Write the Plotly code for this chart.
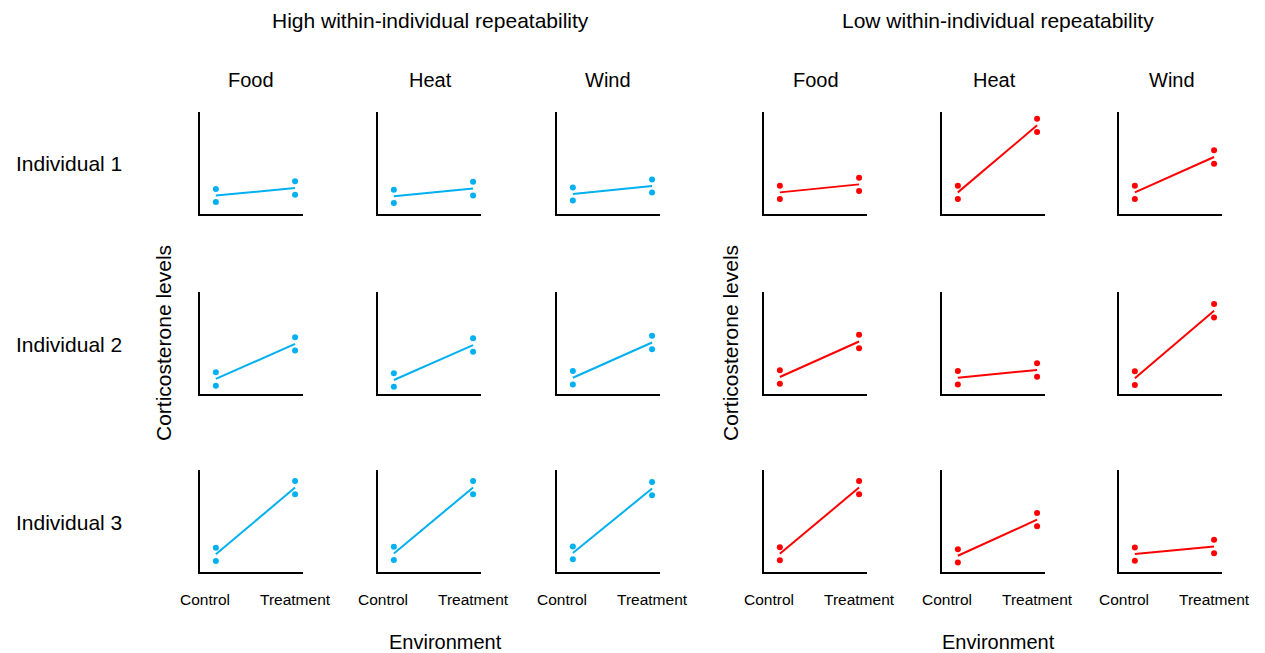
import plotly.graph_objects as go

W, H = 1265, 653

individuals = ["Individual 1", "Individual 2", "Individual 3"]
environments = ["Food", "Heat", "Wind"]
conditions = ["Control", "Treatment"]
group_titles = ["High within-individual repeatability", "Low within-individual repeatability"]
y_label = "Corticosterone levels"
x_label = "Environment"

# rows = individuals, columns = environments
high_ctrl_hi = [[2.45, 2.38, 2.61], [2.13, 2.03, 2.26], [2.38, 2.47, 2.50]]
high_ctrl_lo = [[1.18, 1.08, 1.33], [0.82, 0.72, 0.92], [1.08, 1.17, 1.24]]
high_trt_hi = [[3.20, 3.17, 3.39], [5.57, 5.47, 5.71], [8.93, 8.93, 8.83]]
high_trt_lo = [[1.89, 1.82, 2.12], [4.26, 4.13, 4.39], [7.63, 7.63, 7.53]]

low_ctrl_hi = [[2.77, 2.77, 2.77], [2.32, 2.26, 2.22], [2.43, 2.24, 2.40]]
low_ctrl_lo = [[1.47, 1.47, 1.47], [1.01, 0.92, 0.89], [1.14, 0.94, 1.11]]
low_trt_hi = [[3.56, 9.34, 6.24], [5.81, 3.01, 8.82], [8.93, 5.78, 3.15]]
low_trt_lo = [[2.25, 8.04, 4.93], [4.49, 1.70, 7.51], [7.63, 4.48, 1.85]]

groups = [
    (high_ctrl_hi, high_ctrl_lo, high_trt_hi, high_trt_lo, "#00B0F0"),
    (low_ctrl_hi, low_ctrl_lo, low_trt_hi, low_trt_lo, "#FF0000"),
]

col_left = [[200, 378, 557], [764, 942, 1119]]
row_top = [112, 292, 470]
pw, ph = 103, 102

FONT = "Liberation Sans, Arial, sans-serif"
fig = go.Figure()
annotations = []
idx = 0
for g, (chi, clo, thi, tlo, color) in enumerate(groups):
    for r in range(3):
        for c in range(3):
            idx += 1
            xa = "x" if idx == 1 else f"x{idx}"
            ya = "y" if idx == 1 else f"y{idx}"
            x0 = col_left[g][c]
            y0 = row_top[r]
            dom_x = [x0 / W, (x0 + pw) / W]
            dom_y = [1 - (y0 + ph) / H, 1 - y0 / H]
            mc = (chi[r][c] + clo[r][c]) / 2
            mt = (thi[r][c] + tlo[r][c]) / 2
            fig.add_trace(go.Scatter(
                x=[1, 2], y=[mc, mt], mode="lines",
                line=dict(color=color, width=2), xaxis=xa, yaxis=ya,
                showlegend=False, hoverinfo="skip"))
            fig.add_trace(go.Scatter(
                x=[1, 1, 2, 2], y=[chi[r][c], clo[r][c], thi[r][c], tlo[r][c]],
                mode="markers", marker=dict(color=color, size=6),
                xaxis=xa, yaxis=ya, showlegend=False))
            axkey = "xaxis" if idx == 1 else f"xaxis{idx}"
            aykey = "yaxis" if idx == 1 else f"yaxis{idx}"
            fig.update_layout(**{
                axkey: dict(domain=dom_x, range=[0.8, 2.1], showline=True,
                            linecolor="black", linewidth=2, showgrid=False,
                            zeroline=False, showticklabels=False, ticks="",
                            anchor=ya, fixedrange=True),
                aykey: dict(domain=dom_y, range=[0, 10], showline=True,
                            linecolor="black", linewidth=2, showgrid=False,
                            zeroline=False, showticklabels=False, ticks="",
                            anchor=xa, fixedrange=True),
            })
            if r == 2:
                for k, lab in enumerate(conditions):
                    annotations.append(dict(
                        text=lab, x=k + 1, y=0, xref=xa, yref=ya,
                        xshift=-11 if k == 0 else 0, yshift=-27,
                        showarrow=False, xanchor="center", yanchor="middle",
                        font=dict(size=15.5, color="black", family=FONT)))

# paper-level text
def paper_text(text, px, py, size, angle=0, xanchor="center"):
    annotations.append(dict(
        text=text, x=px / W, y=1 - py / H, xref="paper", yref="paper",
        showarrow=False, xanchor=xanchor, yanchor="middle", textangle=angle,
        font=dict(size=size, color="black", family=FONT)))

header_x = [[251, 430, 608], [816, 994, 1172]]
for g in range(2):
    paper_text(group_titles[g], [430, 998][g], 20, 21)
    for c in range(3):
        paper_text(environments[c], header_x[g][c], 80, 20)
    paper_text(y_label, [163, 730][g], 343, 21, angle=-90)
    paper_text(x_label, [445, 998][g], 642, 20)

for r, name in enumerate(individuals):
    paper_text(name, 14, row_top[r] + 52, 21, xanchor="left")

fig.update_layout(
    width=W, height=H, margin=dict(l=0, r=0, t=0, b=0),
    paper_bgcolor="white", plot_bgcolor="white",
    annotations=annotations, showlegend=False,
    font=dict(family=FONT, color="black"),
)

fig.write_html("out.html", config={"displayModeBar": False},
               post_script="document.body.style.margin='0';document.body.style.overflow='hidden';")
